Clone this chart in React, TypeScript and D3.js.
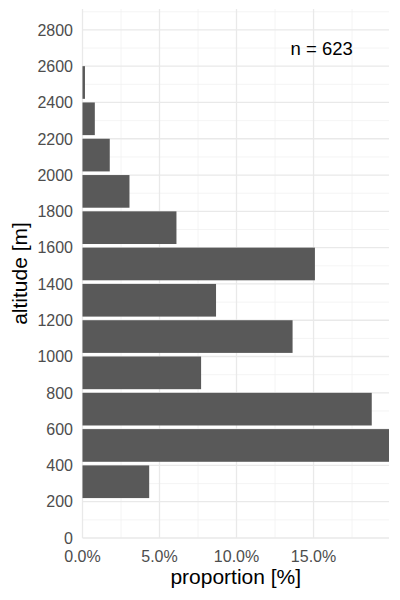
import React, { useRef, useEffect } from 'react';
import * as d3 from 'd3';

// lower edge of each altitude bin [m], each bin is 200 m wide
const binLower = [200, 400, 600, 800, 1000, 1200, 1400, 1600, 1800, 2000, 2200, 2400];
const binWidth = 200;
// share of observations per bin [%]
const proportions = [4.33, 19.9, 18.78, 7.7, 13.64, 8.67, 15.09, 6.1, 3.05, 1.77, 0.8, 0.16];
const sampleSize = 623;

const yTicks = [0, 200, 400, 600, 800, 1000, 1200, 1400, 1600, 1800, 2000, 2200, 2400, 2600, 2800];
const yMinorTicks = [100, 300, 500, 700, 900, 1100, 1300, 1500, 1700, 1900, 2100, 2300, 2500, 2700, 2900];
const xTicks = [0, 5, 10, 15];
const xTickLabels = ['0.0%', '5.0%', '10.0%', '15.0%'];
const xMinorTicks = [2.5, 7.5, 12.5, 17.5];

const WIDTH = 400;
const HEIGHT = 600;
const FONT = "'Liberation Sans', Arial, sans-serif";

export default function App() {
  const svgRef = useRef<SVGSVGElement>(null);

  useEffect(() => {
    if (!svgRef.current) return;
    const svg = d3.select(svgRef.current);
    svg.selectAll('*').remove();

    const panel = { left: 82.5, right: 389, top: 9, bottom: 538 };

    const x = d3.scaleLinear()
      .domain([0, d3.max(proportions) || 0])
      .range([panel.left, panel.right]);

    const y = d3.scaleLinear()
      .domain([0, 2915])
      .range([panel.bottom, panel.top]);

    const data = binLower.map((lo, i) => ({ lo, hi: lo + binWidth, value: proportions[i] }));

    // minor grid
    const grid = svg.append('g');
    grid.selectAll('.ymin')
      .data(yMinorTicks.filter(t => y(t) >= panel.top))
      .enter().append('line')
      .attr('x1', panel.left).attr('x2', panel.right)
      .attr('y1', d => y(d)).attr('y2', d => y(d))
      .attr('stroke', '#f1f1f1').attr('stroke-width', 0.8);
    grid.selectAll('.xmin')
      .data(xMinorTicks)
      .enter().append('line')
      .attr('x1', d => x(d)).attr('x2', d => x(d))
      .attr('y1', panel.top).attr('y2', panel.bottom)
      .attr('stroke', '#f1f1f1').attr('stroke-width', 0.8);

    // major grid
    grid.selectAll('.ymaj')
      .data(yTicks)
      .enter().append('line')
      .attr('x1', panel.left).attr('x2', panel.right)
      .attr('y1', d => y(d)).attr('y2', d => y(d))
      .attr('stroke', '#e9e9e9').attr('stroke-width', 1.3);
    grid.selectAll('.xmaj')
      .data(xTicks)
      .enter().append('line')
      .attr('x1', d => x(d)).attr('x2', d => x(d))
      .attr('y1', panel.top).attr('y2', panel.bottom)
      .attr('stroke', '#e9e9e9').attr('stroke-width', 1.3);

    // bars
    svg.append('g')
      .selectAll('rect')
      .data(data)
      .enter().append('rect')
      .attr('x', x(0))
      .attr('y', d => y(d.hi))
      .attr('width', d => x(d.value) - x(0))
      .attr('height', d => y(d.lo + binWidth * 0.1) - y(d.hi))
      .attr('fill', '#595959');

    // y tick labels
    svg.append('g')
      .selectAll('text')
      .data(yTicks)
      .enter().append('text')
      .attr('x', 73)
      .attr('y', d => y(d))
      .attr('dy', '0.36em')
      .attr('text-anchor', 'end')
      .attr('font-family', FONT)
      .attr('font-size', 16)
      .attr('fill', '#4d4d4d')
      .text(d => String(d));

    // x tick labels
    svg.append('g')
      .selectAll('text')
      .data(xTicks)
      .enter().append('text')
      .attr('x', d => x(d))
      .attr('y', 561.5)
      .attr('text-anchor', 'middle')
      .attr('font-family', FONT)
      .attr('font-size', 16)
      .attr('fill', '#4d4d4d')
      .text((d, i) => xTickLabels[i]);

    // axis titles
    svg.append('text')
      .attr('x', (panel.left + panel.right) / 2)
      .attr('y', 583.5)
      .attr('text-anchor', 'middle')
      .attr('font-family', FONT)
      .attr('font-size', 21)
      .attr('fill', '#000')
      .text('proportion [%]');

    svg.append('text')
      .attr('transform', `translate(26.5,${(panel.top + panel.bottom) / 2}) rotate(-90)`)
      .attr('text-anchor', 'middle')
      .attr('font-family', FONT)
      .attr('font-size', 21)
      .attr('fill', '#000')
      .text('altitude [m]');

    // sample size annotation
    svg.append('text')
      .attr('x', 321.7)
      .attr('y', 55)
      .attr('text-anchor', 'middle')
      .attr('font-family', FONT)
      .attr('font-size', 18.5)
      .attr('fill', '#000')
      .text(`n = ${sampleSize}`);
  }, []);

  return (
    <div style={{ position: 'absolute', left: 0, top: 0, width: WIDTH, height: HEIGHT, background: '#fff' }}>
      <svg ref={svgRef} width={WIDTH} height={HEIGHT} style={{ display: 'block' }} />
    </div>
  );
}
